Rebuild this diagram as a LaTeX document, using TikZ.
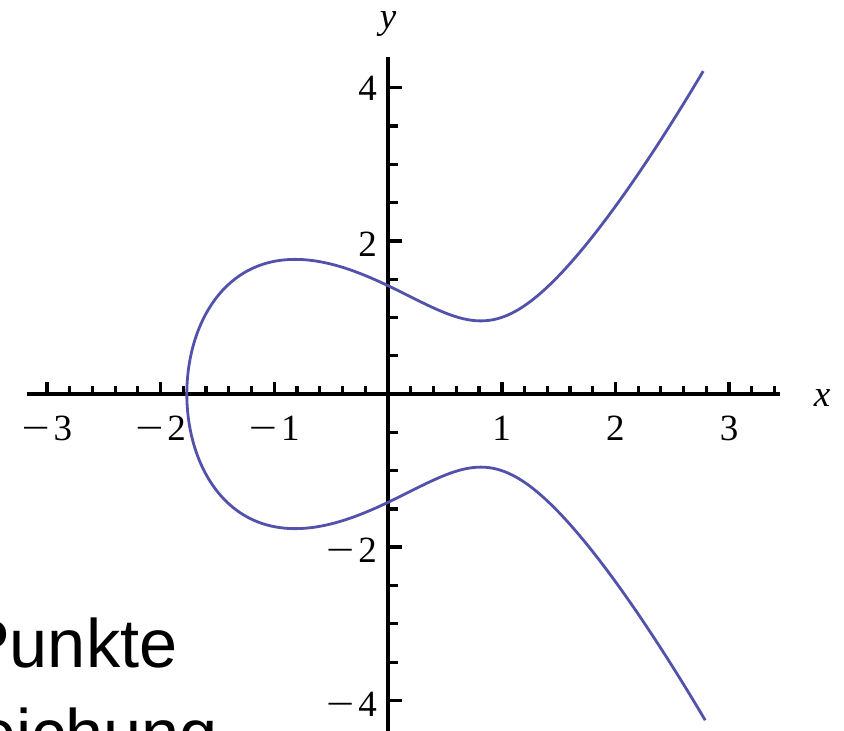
\documentclass[tikz,border=0pt]{standalone}
\usepackage{fontspec}
\setmainfont{Liberation Serif}
\newfontfamily\slidefont{Liberation Sans}
\definecolor{curveblue}{RGB}{82,82,172}
\newcommand{\mns}{\scalebox{1.35}[1]{−}\hspace{4pt}}
\begin{document}
\begin{tikzpicture}[x=1pt,y=-1pt,
  axisline/.style={line width=4.3pt},
  majortick/.style={line width=3.6pt},
  minortick/.style={line width=3.2pt},
  ticklabel/.style={inner sep=0pt,font=\fontsize{37}{44}\selectfont},
  axislabel/.style={inner sep=0pt,font=\fontsize{37}{44}\selectfont\itshape},
  slidetext/.style={inner sep=0pt,anchor=base west,font=\fontsize{68.5}{82}\selectfont\slidefont},
  curve/.style={curveblue,line width=2.8pt,line join=round},
  declare function={rr=-1.76929; xx(\t)=rr+\t*\t; qq(\t)=xx(\t)*xx(\t)+rr*xx(\t)+1.13039;}
]
\clip (0,0) rectangle (844,731);
\fill[white] (0,0) rectangle (844,731);
% slide text behind
\node[slidetext] (t1) at (-36,667) {Punkte};
\node[slidetext] (t2) at (-22,757) {eichung};
% axes
\draw[axisline] (27,394) -- (780,394);
\draw[axisline] (388,57) -- (388,740);
% x ticks
\foreach \i in {-15,...,17}{
  \ifnum\i=0\relax\else
    \draw[minortick] ({388+113.7*\i/5},392) -- ++(0,-6.5);
  \fi
}
\foreach \v in {-3,-2,-1,1,2,3}{
  \draw[majortick] ({388+113.7*\v},392) -- ++(0,-10);
}
% y ticks
\foreach \j in {-8,...,8}{
  \ifnum\j=0\relax\else
    \draw[minortick] (390,{394-76.6*\j/2}) -- ++(8,0);
  \fi
}
\foreach \v in {-4,-2,2,4}{
  \draw[majortick] (390,{394-76.6*\v}) -- ++(12,0);
}
% x tick labels
\node[ticklabel] (xm3) at ({388-113.7*3},428) {\mns3};
\node[ticklabel] (xm2) at ({388-113.7*2},428) {\mns2};
\node[ticklabel] (xm1) at ({388-113.7*1},428) {\mns1};
\node[ticklabel] (xp1) at ({388+113.7*1},428) {1};
\node[ticklabel] (xp2) at ({388+113.7*2},428) {2};
\node[ticklabel] (xp3) at ({388+113.7*3},428) {3};
% y tick labels
\node[ticklabel,anchor=east] (yp4) at (377,{394-76.6*4+1}) {4};
\node[ticklabel,anchor=east] (yp2) at (377,{394-76.6*2+3}) {2};
\node[ticklabel,anchor=east] (ym2) at (377,{394+76.6*2+3}) {\mns2};
\node[ticklabel,anchor=east] (ym4) at (377,{394+76.6*4+4}) {\mns4};
% axis labels
\node[axislabel] (xlab) at (822,398) {x};
\node[axislabel] (ylab) at (388,24) {y};
% curve y^2 = x^3 - 2x + 2
\draw[curve] plot[domain=-2.1352:2.1352,samples=301,variable=\t,smooth]
  ({388+113.7*xx(\t)},{394-76.6*\t*sqrt(qq(\t))});
\end{tikzpicture}
\end{document}
